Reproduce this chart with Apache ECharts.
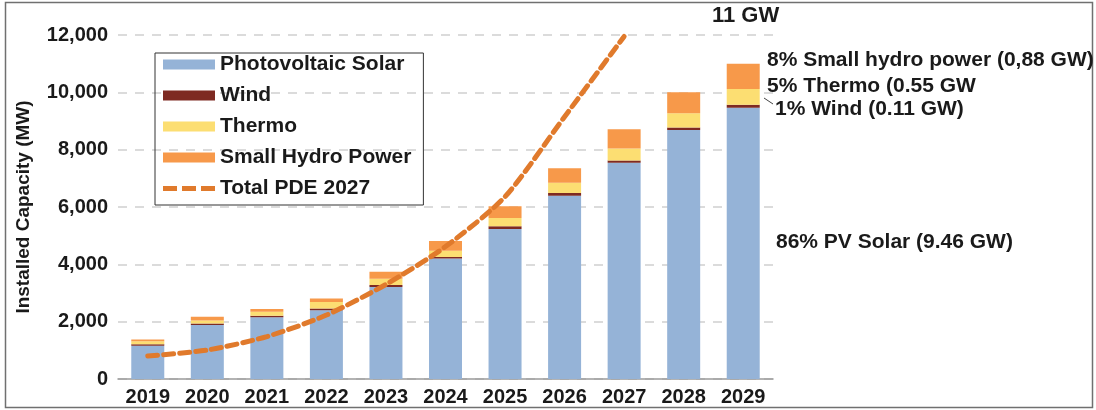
<!DOCTYPE html>
<html>
<head>
<meta charset="utf-8">
<script src="https://cdn.jsdelivr.net/npm/echarts@6/dist/echarts.min.js"></script>
<style>
  html, body { margin: 0; padding: 0; background: #ffffff; }
  #chart { width: 1096px; height: 410px; }
</style>
</head>
<body>
<div id="chart"></div>
<script>
// Installed capacity by source (MW), 2019-2029
const years = ['2019', '2020', '2021', '2022', '2023', '2024', '2025', '2026', '2027', '2028', '2029'];
const pvSolar   = [1160, 1880, 2150, 2400, 3210, 4200, 5230, 6390, 7540, 8690, 9460];
const wind      = [50, 60, 60, 60, 70, 60, 100, 100, 80, 80, 110];
const thermo    = [110, 100, 140, 230, 220, 210, 290, 360, 420, 500, 550];
const smallHydro = [60, 130, 90, 120, 240, 340, 410, 500, 670, 730, 880];
// PDE 2027 plan total, defined up to 2027
const totalPDE  = [800, 1010, 1480, 2230, 3300, 4620, 6360, 9150, 11950, null, null];
const yTicks = { min: 0, max: 12000, interval: 2000 };

const FONT = '"Liberation Sans", Arial, sans-serif';
const chart = echarts.init(document.getElementById('chart'), null, { renderer: 'canvas' });

const barSeries = (name, data, color) => ({
  name, type: 'bar', stack: 'cap', data, barWidth: 33,
  itemStyle: { color }, emphasis: { disabled: true }
});

const annot = (text, x, y, size) => ({
  type: 'text', left: x, top: y,
  style: { text, font: 'bold ' + (size || 21) + 'px ' + FONT, fill: '#1a1a1a' }
});

// three short dashes for the plan line's legend key
const dashIcon = 'path://M0,0h14v5h-14z M19,0h14v5h-14z M38,0h14v5h-14z';

chart.setOption({
  animation: false,
  backgroundColor: '#ffffff',
  grid: { left: 118, right: 323, top: 35, bottom: 31, containLabel: false },
  legend: {
    orient: 'vertical', left: 155, top: 53,
    itemWidth: 52, itemHeight: 10, itemGap: 10,
    padding: [1, 12, 6, 8],
    borderColor: '#333', borderWidth: 1,
    textStyle: { fontFamily: FONT, fontSize: 21, fontWeight: 'bold', color: '#1a1a1a' },
    data: [
      { name: 'Photovoltaic Solar', icon: 'rect' },
      { name: 'Wind', icon: 'rect' },
      { name: 'Thermo', icon: 'rect' },
      { name: 'Small Hydro Power', icon: 'rect' },
      { name: 'Total PDE 2027', icon: dashIcon }
    ]
  },
  xAxis: {
    type: 'category', data: years,
    axisTick: { show: false },
    axisLine: { lineStyle: { color: '#9a9a9a', width: 1.5 } },
    axisLabel: { fontFamily: FONT, fontSize: 20, fontWeight: 'bold', color: '#1a1a1a', margin: 8 }
  },
  yAxis: {
    type: 'value', min: yTicks.min, max: yTicks.max, interval: yTicks.interval,
    name: 'Installed Capacity (MW)', nameLocation: 'middle', nameGap: 85, nameRotate: 90,
    nameTextStyle: { fontFamily: FONT, fontSize: 19, fontWeight: 'bold', color: '#1a1a1a' },
    axisLine: { show: false }, axisTick: { show: false },
    axisLabel: {
      fontFamily: FONT, fontSize: 20, fontWeight: 'bold', color: '#1a1a1a', margin: 10,
      formatter: v => v.toLocaleString('en-US')
    },
    splitLine: { lineStyle: { color: '#cfcfcf', type: [9, 8], width: 1.5 } }
  },
  series: [
    barSeries('Photovoltaic Solar', pvSolar, '#95b3d7'),
    barSeries('Wind', wind, '#7e2a22'),
    barSeries('Thermo', thermo, '#fcde72'),
    barSeries('Small Hydro Power', smallHydro, '#f7994a'),
    {
      name: 'Total PDE 2027', type: 'line', data: totalPDE,
      smooth: 0.25, showSymbol: false, connectNulls: false, z: 5,
      lineStyle: { color: '#e07a2c', width: 5, type: [10, 6], cap: 'round' },
      itemStyle: { color: '#e07a2c' },
      emphasis: { disabled: true }
    }
  ],
  graphic: [
    { type: 'rect', shape: { x: 5.5, y: 2.5, width: 1087, height: 405 },
      style: { fill: null, stroke: '#707070', lineWidth: 1.5 }, silent: true },
    annot('11 GW', 712, 5, 22),
    annot('8% Small hydro power (0,88 GW)', 767, 50),
    annot('5% Thermo (0.55 GW', 767, 76),
    annot('1% Wind (0.11 GW)', 775, 99),
    annot('86% PV Solar (9.46 GW)', 776, 232),
    { type: 'line', shape: { x1: 764, y1: 98, x2: 773, y2: 104 },
      style: { stroke: '#444', lineWidth: 1 }, silent: true }
  ]
});
</script>
</body>
</html>
